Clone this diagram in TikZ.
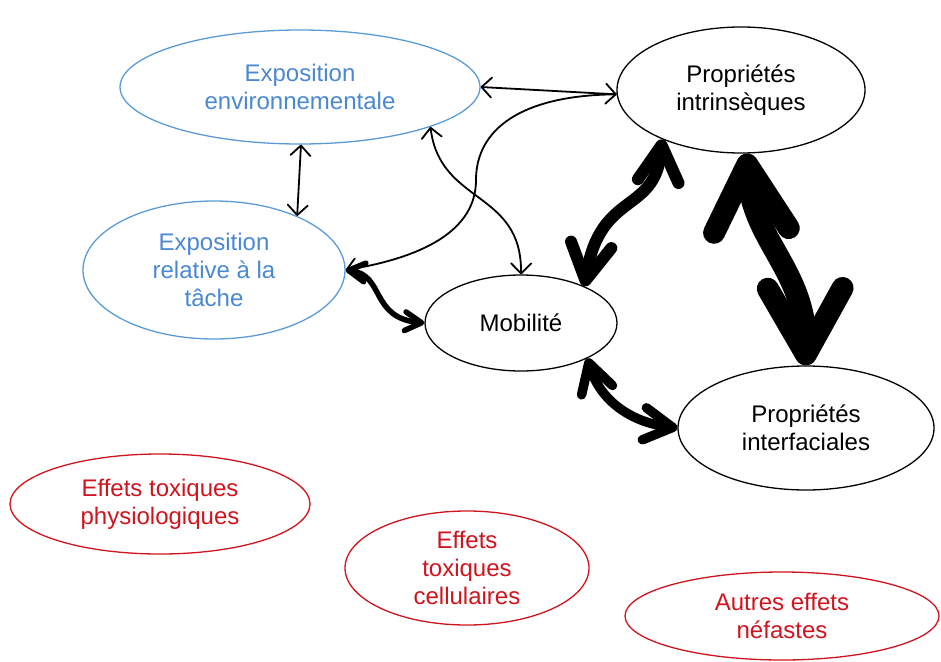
\documentclass[tikz,border=0pt]{standalone}
\usepackage{fontspec}
\setmainfont{Liberation Sans}
\usetikzlibrary{arrows.meta,shapes.geometric}
\definecolor{expblue}{HTML}{5B9BD5}
\definecolor{exptext}{HTML}{4A88D2}
\definecolor{effred}{HTML}{D0141E}
\tikzset{
  bubble/.style={ellipse, draw=#1, line width=1.3pt, inner sep=0pt, align=center,
                 font=\fontsize{24}{28}\selectfont},
  link/.style={line width=1.8pt,
               {Straight Barb[round,length=10pt,width=20pt]}-{Straight Barb[round,length=10pt,width=20pt]}},
  heavy/.style={line width=#1, line cap=round,
                {Straight Barb[round,length=0pt 3,width=0pt 3.4]}-{Straight Barb[round,length=0pt 3,width=0pt 3.4]}}
}
\begin{document}
\begin{tikzpicture}[x=1pt,y=-1pt]
  \useasboundingbox (0,0) rectangle (941,661);
  % exposure
  \node[bubble=expblue, text=exptext, minimum width=360, minimum height=114] (env) at (300,87) {Exposition\\environnementale};
  \node[bubble=expblue, text=exptext, minimum width=262, minimum height=138] (tache) at (214,270) {Exposition\\relative à la\\tâche};
  % properties
  \node[bubble=black, minimum width=248, minimum height=126] (intr) at (741,90) {Propriétés\\intrinsèques};
  \node[bubble=black, minimum width=192, minimum height=96] (mob) at (521,323) {Mobilité};
  \node[bubble=black, minimum width=256, minimum height=124] (interf) at (806,428) {Propriétés\\interfaciales};
  % effects
  \node[bubble=effred, text=effred, minimum width=300, minimum height=100] (physio) at (160,504) {Effets toxiques\\physiologiques};
  \node[bubble=effred, text=effred, minimum width=244, minimum height=114] (cell) at (467,568) {Effets\\toxiques\\cellulaires};
  \node[bubble=effred, text=effred, minimum width=314, minimum height=88] (autres) at (782,616) {Autres effets\\néfastes};
  % thin links
  \draw[link] (env.east) -- (intr.182);
  \draw[link] (env.271) -- (tache.33);
  \draw[link] (env.343) .. controls (440,205) and (522,190) .. (mob.90);
  \draw[line width=1.8pt, -{Straight Barb[round,length=10pt,width=20pt]}]
    (intr.182) .. controls (520,95) and (476,130) .. (476,180)
    .. controls (476,232) and (420,258) .. (tache.east);
  % heavy links
  \draw[heavy=5.5pt] (tache.east) .. controls (385,275) and (370,318) .. (mob.west);
  \draw[heavy=12pt] (intr.212) .. controls (655,215) and (600,190) .. (mob.30);
  \draw[heavy=9.5pt] (mob.332) .. controls (600,400) and (630,422) .. (interf.west);
  \draw[heavy=22pt] (intr.275) .. controls (752,240) and (805,270) .. (interf.north);
\end{tikzpicture}
\end{document}
